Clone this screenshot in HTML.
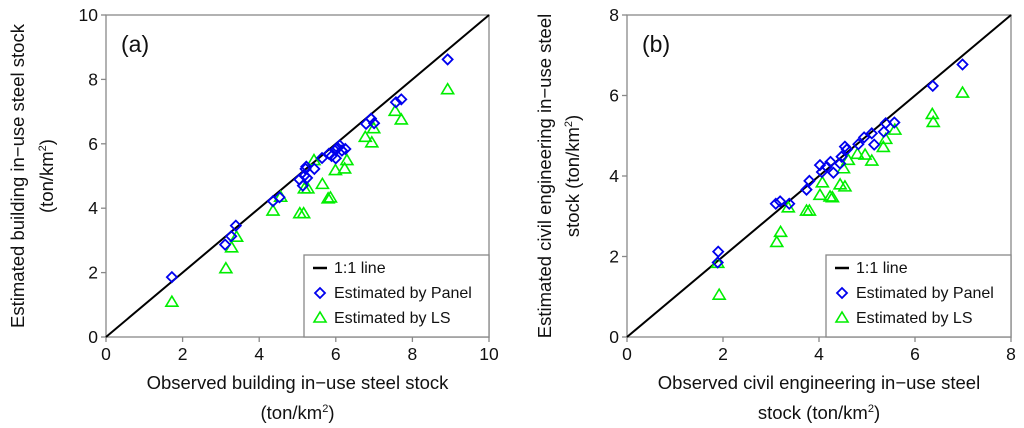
<!DOCTYPE html>
<html><head><meta charset="utf-8"><style>
body{margin:0;background:#fff}
svg{display:block;font-family:"Liberation Sans",sans-serif}
</style></head><body>
<svg id="c" width="1024" height="428"></svg>
<script>
const aPanelX=[1.72,3.11,3.27,3.39,4.36,4.53,5.05,5.14,5.18,5.21,5.23,5.25,5.44,5.64,5.82,5.89,6.00,6.05,6.10,6.16,6.25,6.01,6.79,6.92,7.00,7.57,7.71,8.92];
const aPanelY=[1.86,2.87,3.13,3.46,4.22,4.34,4.89,4.70,5.01,5.22,5.29,4.94,5.22,5.56,5.69,5.62,5.55,5.87,5.95,5.79,5.84,5.84,6.62,6.78,6.64,7.29,7.38,8.62];
const aLsX=[1.72,3.13,3.28,3.41,4.36,4.56,5.06,5.16,5.18,5.27,5.43,5.65,5.80,5.86,5.99,6.23,6.29,6.77,6.94,6.99,7.55,7.71,8.92];
const aLsY=[1.08,2.12,2.77,3.10,3.91,4.34,3.83,3.83,4.60,4.60,5.48,4.74,4.29,4.32,5.17,5.22,5.48,6.20,6.03,6.47,7.01,6.74,7.68];
const bPanelX=[1.90,1.89,3.10,3.19,3.38,3.74,3.80,4.02,4.06,4.16,4.24,4.30,4.44,4.47,4.54,4.58,4.82,4.94,5.10,5.15,5.35,5.39,5.57,6.37,6.99];
const bPanelY=[2.12,1.85,3.31,3.37,3.31,3.66,3.88,4.27,4.10,4.23,4.35,4.08,4.31,4.48,4.73,4.66,4.79,4.96,5.06,4.78,5.10,5.31,5.33,6.24,6.77];
const bLsX=[1.92,1.89,3.12,3.20,3.36,3.74,3.80,4.02,4.07,4.23,4.28,4.44,4.54,4.51,4.61,4.80,4.96,5.10,5.34,5.39,5.58,6.36,6.38,6.99];
const bLsY=[1.04,1.83,2.35,2.60,3.21,3.13,3.13,3.52,3.83,3.48,3.46,3.78,3.73,4.18,4.39,4.54,4.52,4.37,4.71,4.91,5.14,5.53,5.33,6.06];
const aTicks=[0,2,4,6,8,10];
const bTicks=[0,2,4,6,8];
const NS="http://www.w3.org/2000/svg";
const svg=document.getElementById('c');
function mk(t,at,p){const e=document.createElementNS(NS,t);for(const k in at)e.setAttribute(k,at[k]);(p||svg).appendChild(e);return e;}
function panel(id,L,R,T,B,max,ticks,px,py,lx,ly,label,xl1,xl2,yl1,yl2,ylx1,ylx2,legX){
  const g=mk('g',{});
  
  
  const sx=v=>L+(R-L)*v/max, sy=v=>B-(B-T)*v/max;
  const fr=mk('rect',{x:L,y:T,width:R-L,height:B-T,fill:'none',stroke:'#888','stroke-width':1.3},g);
  
  
  ticks.forEach(v=>{
    mk('line',{x1:sx(v),x2:sx(v),y1:B,y2:B+5,stroke:'#888','stroke-width':1.3},g);
    mk('line',{x1:L-5,x2:L,y1:sy(v),y2:sy(v),stroke:'#888','stroke-width':1.3},g);
    const tx=mk('text',{x:sx(v),y:B+23,'text-anchor':'middle','font-size':17.5,fill:'#111'},g);tx.textContent=v;
    
    
    const ty=mk('text',{x:L-8,y:sy(v)+6,'text-anchor':'end','font-size':17.5,fill:'#111'},g);ty.textContent=v;
    
    
  });
  const ln=mk('line',{x1:sx(0),y1:sy(0),x2:sx(max),y2:sy(max),stroke:'#000','stroke-width':2},g);
  
  
  lx.forEach((v,i)=>{const x=sx(v),y=sy(ly[i]);
    const t=mk('polygon',{points:`${x},${y-6} ${x+6},${y+4} ${x-6},${y+4}`,fill:'none',stroke:'#00ee00','stroke-width':1.6},g);
    
    });
  px.forEach((v,i)=>{const x=sx(v),y=sy(py[i]);
    const d=mk('polygon',{points:`${x},${y-5} ${x+5},${y} ${x},${y+5} ${x-5},${y}`,fill:'none',stroke:'#0000ee','stroke-width':1.8},g);
    
    });
  const pl=mk('text',{x:L+15,y:T+37,'font-size':23,fill:'#111'},g);pl.textContent=label;
  
  
  const lg=mk('g',{},g);
  
  
  mk('rect',{x:legX,y:255,width:R-legX,height:B-255,fill:'#fff',stroke:'#888','stroke-width':1.3},lg);
  mk('line',{x1:legX+9,x2:legX+23,y1:268,y2:268,stroke:'#000','stroke-width':2.5},lg);
  let x=legX+16,y=293;
  mk('polygon',{points:`${x},${y-5} ${x+5},${y} ${x},${y+5} ${x-5},${y}`,fill:'none',stroke:'#0000ee','stroke-width':1.8},lg);
  y=318;
  mk('polygon',{points:`${x},${y-6} ${x+6},${y+4} ${x-6},${y+4}`,fill:'none',stroke:'#00ee00','stroke-width':1.6},lg);
  [['1:1 line',273],['Estimated by Panel',298],['Estimated by LS',323]].forEach(([s,yy])=>{
    const t=mk('text',{x:legX+30,y:yy,'font-size':16,fill:'#111'},lg);t.textContent=s;
    
    });
  const cx=(L+R)/2;
  const x1=mk('text',{x:cx,y:389,'text-anchor':'middle','font-size':18.5,fill:'#111'},g);x1.textContent=xl1;
  
  
  const x2=mk('text',{x:cx,y:419,'text-anchor':'middle','font-size':18.5,fill:'#111'},g);x2.innerHTML=xl2;
  
  
  const cy=(T+B)/2;
  const y1=mk('text',{x:0,y:0,'text-anchor':'middle','font-size':18.5,fill:'#111',transform:`translate(${ylx1},${cy}) rotate(-90)`},g);y1.textContent=yl1;
  
  
  const y2=mk('text',{x:0,y:0,'text-anchor':'middle','font-size':18.5,fill:'#111',transform:`translate(${ylx2},${cy}) rotate(-90)`},g);y2.innerHTML=yl2;
  
  
}
panel('a',106,489,15,337,10,aTicks,aPanelX,aPanelY,aLsX,aLsY,'(a)',
 'Observed building in\u2212use steel stock','(ton/km<tspan dy="-7" font-size="11">2</tspan><tspan dy="7">)</tspan>',
 'Estimated building in\u2212use steel stock','(ton/km<tspan dy="-7" font-size="11">2</tspan><tspan dy="7">)</tspan>',24,53,304);
panel('b',627,1011,15,337,8,bTicks,bPanelX,bPanelY,bLsX,bLsY,'(b)',
 'Observed civil engineering in\u2212use steel','stock (ton/km<tspan dy="-7" font-size="11">2</tspan><tspan dy="7">)</tspan>',
 'Estimated civil engineering in\u2212use steel','stock (ton/km<tspan dy="-7" font-size="11">2</tspan><tspan dy="7">)</tspan>',551,579,826);
</script>
</body></html>
